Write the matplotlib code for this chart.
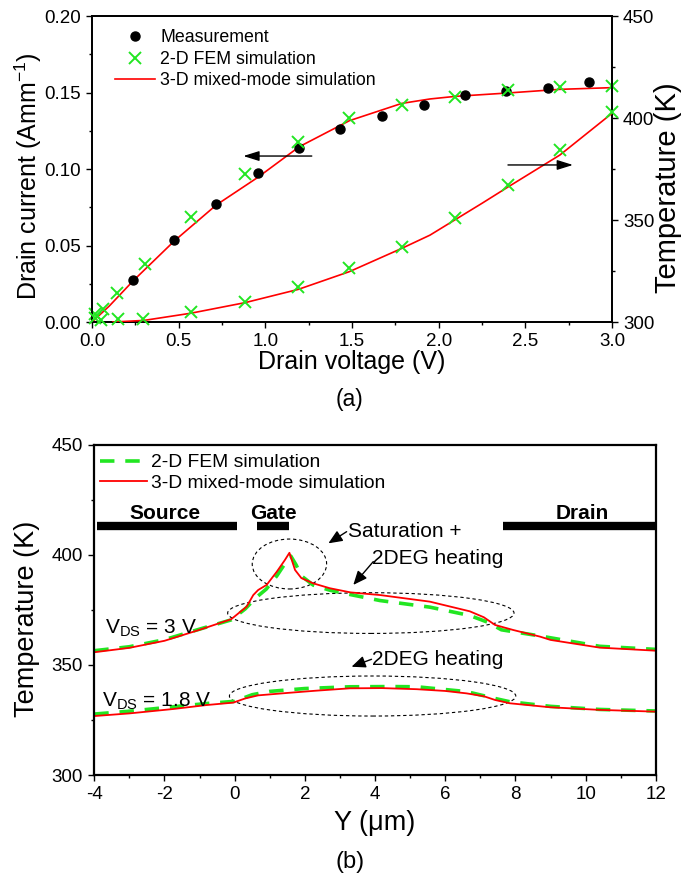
import matplotlib
matplotlib.use("Agg")
import matplotlib.pyplot as plt
from matplotlib.patches import Ellipse
from matplotlib.ticker import MultipleLocator, FormatStrFormatter

plt.rcParams['font.family'] = ['Liberation Sans', 'DejaVu Sans']
plt.rcParams['mathtext.fontset'] = 'custom'
plt.rcParams['mathtext.rm'] = 'Liberation Sans'
plt.rcParams['mathtext.it'] = 'Liberation Sans:italic'
plt.rcParams['mathtext.bf'] = 'Liberation Sans:bold'
plt.rcParams['axes.unicode_minus'] = False

# ---------------- (a) drain current and temperature vs drain voltage ----------
meas_v = [0.238, 0.475, 0.717, 0.956, 1.196, 1.433, 1.673, 1.914, 2.152, 2.391, 2.630, 2.866]
meas_i = [0.0272, 0.0536, 0.0771, 0.0972, 0.1135, 0.1260, 0.1346, 0.1420, 0.1484, 0.1510, 0.1530, 0.1570]

fem_iv_v = [0.017, 0.065, 0.142, 0.306, 0.569, 0.883, 1.190, 1.485, 1.787, 2.096, 2.398, 2.700, 2.999]
fem_iv_i = [0.0052, 0.0085, 0.0188, 0.0379, 0.0688, 0.0967, 0.1178, 0.1335, 0.1416, 0.1473, 0.1516, 0.1538, 0.1545]

fem_t_v = [0.020, 0.050, 0.152, 0.296, 0.569, 0.883, 1.190, 1.485, 1.787, 2.096, 2.402, 2.700, 2.999]
fem_t_k = [302.0, 301.2, 301.5, 301.5, 305.0, 310.0, 317.3, 326.6, 336.9, 350.8, 367.0, 384.3, 403.1]

mm_iv_v = [0.0, 0.100, 0.238, 0.475, 0.717, 0.956, 1.196, 1.485, 1.787, 1.950, 2.096, 2.398, 2.700, 3.000]
mm_iv_i = [0.0, 0.0105, 0.0270, 0.0530, 0.0765, 0.0945, 0.1146, 0.1316, 0.1429, 0.1458, 0.1475, 0.1497, 0.1521, 0.1532]

mm_t_v = [0.12, 0.30, 0.569, 0.883, 1.190, 1.485, 1.787, 1.950, 2.096, 2.250, 2.402, 2.700, 3.000]
mm_t_k = [300.0, 300.8, 304.3, 309.5, 316.0, 324.7, 336.1, 342.6, 350.2, 358.2, 366.3, 381.9, 402.3]

# ---------------- (b) temperature profile along the channel ------------------
y3_mm = [-4.0, -3.0, -2.0, -1.0, -0.1, 0.34, 0.53, 0.67, 0.91, 1.2, 1.43, 1.56, 1.72, 1.9,
         2.24, 2.71, 3.3, 4.14, 5.56, 6.7, 7.1, 7.42, 7.94, 8.7, 9.0, 10.4, 12.0]
t3_mm = [355.8, 357.8, 361.0, 366.0, 370.8, 376.5, 381.8, 384.1, 386.4, 392.4, 397.7, 401.0, 393.2, 389.5,
         387.1, 384.9, 383.0, 381.8, 378.8, 374.4, 371.7, 368.2, 365.9, 362.9, 361.4, 357.9, 356.5]

y3_fem = [-4.0, -3.0, -2.0, -1.0, -0.1, 0.3, 0.6, 0.9, 1.2, 1.45, 1.6, 1.75, 1.9, 2.24,
          2.71, 3.3, 4.14, 5.56, 6.7, 7.2, 7.6, 8.7, 10.4, 12.0]
t3_fem = [356.5, 358.3, 361.5, 366.3, 370.5, 375.5, 380.5, 384.5, 390.5, 396.5, 399.5, 395.5, 390.5, 386.3,
          384.0, 382.0, 379.3, 376.3, 372.5, 369.5, 366.0, 363.2, 358.5, 357.1]

y18_mm = [-4.0, -3.0, -1.75, -0.8, -0.04, 0.3, 0.67, 1.5, 2.3, 3.28, 4.2, 5.19, 6.0, 6.61,
          7.1, 7.42, 7.84, 8.98, 10.4, 12.0]
t18_mm = [326.8, 328.0, 330.0, 331.8, 332.9, 334.8, 336.2, 337.3, 338.3, 339.4, 339.5, 339.0, 338.2, 337.1,
          335.8, 334.1, 332.6, 330.8, 329.6, 328.8]

y18_fem = [-4.0, -3.0, -1.75, -0.8, 0.0, 0.5, 1.0, 2.0, 3.28, 4.5, 5.19, 6.61, 7.5, 7.84, 9.0, 10.4, 12.0]
t18_fem = [327.7, 329.0, 331.0, 332.5, 333.5, 336.5, 338.0, 339.3, 340.1, 340.2, 340.1, 337.9, 334.5, 333.3,
           331.2, 329.8, 329.1]

electrodes = ['Source', 'Gate', 'Drain']
electrode_span = [(-3.93, 0.07), (0.64, 1.54), (7.64, 12.0)]
electrode_label_y = [-1.99, 1.10, 9.90]

RED = '#ff0000'
GREEN = '#22e622'
TICK_FS = 13.5


def style_ticks(ax):
    ax.tick_params(which='both', direction='out', width=1.0, labelsize=TICK_FS, pad=4)
    ax.tick_params(which='major', length=4)
    ax.tick_params(which='minor', length=2.5)
    for sp in ax.spines.values():
        sp.set_linewidth(1.3)


fig = plt.figure(figsize=(6.99, 8.77), dpi=100)

# ---- panel (a)
axa = fig.add_axes([0.1316, 0.6328, 0.7439, 0.3489])
axt = axa.twinx()

h_meas, = axa.plot(meas_v, meas_i, 'o', color='black', ms=6.5, ls='none', label='Measurement', zorder=4)
h_fem, = axa.plot(fem_iv_v, fem_iv_i, 'x', color=GREEN, ms=8, mew=1.4, ls='none',
                  label='2-D FEM simulation', zorder=5, clip_on=False)
h_mm, = axa.plot(mm_iv_v, mm_iv_i, '-', color=RED, lw=1.2, label='3-D mixed-mode simulation', zorder=3)
axt.plot(fem_t_v, fem_t_k, 'x', color=GREEN, ms=8, mew=1.4, ls='none', zorder=5, clip_on=False)
axt.plot(mm_t_v, mm_t_k, '-', color=RED, lw=1.2, zorder=3)

axa.set_xlim(0, 3.0)
axa.set_ylim(0, 0.20)
axt.set_ylim(300, 450)
axa.xaxis.set_major_locator(MultipleLocator(0.5))
axa.xaxis.set_minor_locator(MultipleLocator(0.25))
axa.xaxis.set_major_formatter(FormatStrFormatter('%.1f'))
axa.yaxis.set_major_locator(MultipleLocator(0.05))
axa.yaxis.set_minor_locator(MultipleLocator(0.025))
axa.yaxis.set_major_formatter(FormatStrFormatter('%.2f'))
axt.yaxis.set_major_locator(MultipleLocator(50))
axt.yaxis.set_minor_locator(MultipleLocator(25))
style_ticks(axa)
style_ticks(axt)
axa.tick_params(top=False, which='both')

axa.set_xlabel('Drain voltage (V)', fontsize=18, va='center')
axa.xaxis.set_label_coords(0.5, -0.131)
axa.set_ylabel(r'Drain current (Amm$^{-1}$)', fontsize=18, va='center')
axa.yaxis.set_label_coords(-0.123, 0.477)
axt.set_ylabel('Temperature (K)', fontsize=21, va='center', rotation=90)
axt.yaxis.set_label_coords(1.108, 0.438)

axa.annotate('', xy=(0.873, 0.1085), xytext=(1.268, 0.1085),
             arrowprops=dict(arrowstyle='-|>,head_length=0.8,head_width=0.25', color='black',
                             lw=1.0, mutation_scale=12, shrinkA=0, shrinkB=0))
axt.annotate('', xy=(2.775, 377), xytext=(2.40, 377),
             arrowprops=dict(arrowstyle='-|>,head_length=0.8,head_width=0.25', color='black',
                             lw=1.0, mutation_scale=12, shrinkA=0, shrinkB=0))

axt.legend(handles=[h_meas, h_fem, h_mm], loc='upper left', bbox_to_anchor=(0.044, 0.957),
           frameon=False, fontsize=12.8, handlelength=2.25, handletextpad=0.3,
           labelspacing=0.26, borderpad=0, borderaxespad=0, numpoints=1)

fig.text(0.5007, 1 - 400 / 877, '(a)', ha='center', va='center', fontsize=16.5)

# ---- panel (b)
axb = fig.add_axes([0.1349, 0.1163, 0.8033, 0.3763])
g3, = axb.plot(y3_fem, t3_fem, color=GREEN, lw=2.6, dashes=(4, 3), label='2-D FEM simulation')
axb.plot(y18_fem, t18_fem, color=GREEN, lw=2.6, dashes=(4, 3))
r3, = axb.plot(y3_mm, t3_mm, color=RED, lw=1.3, label='3-D mixed-mode simulation')
axb.plot(y18_mm, t18_mm, color=RED, lw=1.3)

axb.set_xlim(-4, 12)
axb.set_ylim(300, 450)
axb.xaxis.set_major_locator(MultipleLocator(2))
axb.xaxis.set_minor_locator(MultipleLocator(1))
axb.yaxis.set_major_locator(MultipleLocator(50))
axb.yaxis.set_minor_locator(MultipleLocator(25))
style_ticks(axb)
axb.tick_params(top=False, right=False, which='both')
for sp in axb.spines.values():
    sp.set_linewidth(1.6)

axb.set_xlabel('Y (\u03bcm)', fontsize=19.5, va='center')
axb.xaxis.set_label_coords(0.5, -0.1445)
axb.set_ylabel('Temperature (K)', fontsize=19.5, va='center')
axb.yaxis.set_label_coords(-0.12, 0.474)

# electrode bars
for name, (a, b), xl in zip(electrodes, electrode_span, electrode_label_y):
    axb.plot([a, b], [413, 413], color='black', lw=6, solid_capstyle='butt', clip_on=False)
    axb.text(xl, 419, name, ha='center', va='center', fontsize=15, fontweight='bold')

# dashed ellipses marking the hot regions
ell_kw = dict(fill=False, ec='black', lw=0.8, ls=(0, (3, 2.5)))
axb.add_patch(Ellipse((1.56, 395.9), 2.12, 22.7, **ell_kw))
axb.add_patch(Ellipse((3.88, 373.6), 8.16, 18.5, **ell_kw))
axb.add_patch(Ellipse((3.93, 335.9), 8.16, 18.2, **ell_kw))

arr_kw = dict(arrowstyle='-|>,head_length=0.7,head_width=0.3', color='black', lw=1.0,
              mutation_scale=12, shrinkA=0, shrinkB=0)
axb.annotate('', xy=(2.67, 405.3), xytext=(3.19, 410.6), arrowprops=arr_kw)
axb.annotate('', xy=(3.38, 386.4), xytext=(3.95, 397.0), arrowprops=arr_kw)
axb.annotate('', xy=(3.33, 349.2), xytext=(3.90, 352.6), arrowprops=arr_kw)

axb.text(3.23, 410.6, 'Saturation +', ha='left', va='center', fontsize=15)
axb.text(3.90, 398.5, '2DEG heating', ha='left', va='center', fontsize=15)
axb.text(3.90, 352.6, '2DEG heating', ha='left', va='center', fontsize=15)

axb.text(-3.7, 366.7, r'V$_{\mathrm{DS}}$ = 3 V', ha='left', va='center', fontsize=15)
axb.text(-3.79, 333.3, r'V$_{\mathrm{DS}}$ = 1.8 V', ha='left', va='center', fontsize=15)

axb.legend(handles=[g3, r3], loc='upper left', bbox_to_anchor=(0.01, 0.973),
           frameon=False, fontsize=13.9, handlelength=2.43, handletextpad=0.2,
           labelspacing=0.16, borderpad=0, borderaxespad=0)

fig.text(0.5007, 1 - 862 / 877, '(b)', ha='center', va='center', fontsize=17)

fig.savefig('out.png', dpi=100)
